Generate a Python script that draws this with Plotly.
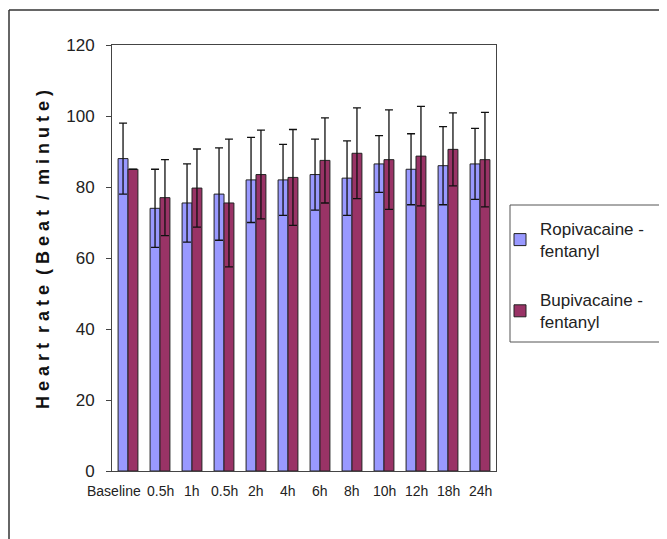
import plotly.graph_objects as go

categories = ["Baseline", "0.5h", "1h", "0.5h ", "2h", "4h", "6h", "8h", "10h", "12h", "18h", "24h"]
tick_labels = ["Baseline", "0.5h", "1h", "0.5h", "2h", "4h", "6h", "8h", "10h", "12h", "18h", "24h"]
ropi_mean = [88, 74, 75.5, 78, 82, 82, 83.5, 82.5, 86.5, 85, 86, 86.5]
ropi_sd = [10, 11, 11, 13, 12, 10, 10, 10.5, 8, 10, 11, 10]
bupi_mean = [85, 77, 79.7, 75.5, 83.5, 82.7, 87.5, 89.5, 87.7, 88.7, 90.6, 87.7]
bupi_sd = [None, 10.7, 11, 18, 12.5, 13.5, 12, 12.8, 14, 14, 10.3, 13.3]
y_ticks = [0, 20, 40, 60, 80, 100, 120]

FONT = "Liberation Sans, Arial, sans-serif"

fig = go.Figure()
fig.add_trace(go.Bar(
    x=categories, y=ropi_mean, name="Ropivacaine -<br>fentanyl", legendgroup="a",
    marker=dict(color="#9999FF", line=dict(color="#222222", width=1)),
    error_y=dict(type="data", array=ropi_sd, color="#111111", thickness=1.3, width=4),
))
fig.add_trace(go.Bar(
    x=categories, y=bupi_mean, name="Bupivacaine -<br>fentanyl", legendgroup="b",
    marker=dict(color="#993366", line=dict(color="#222222", width=1)),
    error_y=dict(type="data", array=bupi_sd, color="#111111", thickness=1.3, width=4),
))

# the page body adds an 8px offset; work in screen pixels and convert
OFF = 8
W, H = 667, 539
SL, SR, ST, SB = 112, 496, 45, 471          # plot area in screen pixels
L, T = SL - OFF, ST - OFF
pw, ph = SR - SL, SB - ST
R = W - L - pw
B = H - T - ph

def px_x(p):
    return (p - SL) / pw

def px_y(p):
    return (SB - p) / ph

# category labels under the axis (Baseline is pushed left as in the original)
label_annotations = []
for i, (cat, lab) in enumerate(zip(categories, tick_labels)):
    first = i == 0
    label_annotations.append(dict(
        text=lab, xref="x", yref="paper", x=cat, y=px_y(491),
        xanchor="right" if first else "center", yanchor="middle",
        xshift=15 if first else 0, showarrow=False,
        font=dict(size=14, family=FONT, color="#222222"),
    ))

fig.update_layout(
    width=W, height=H,
    margin=dict(l=L, r=R, t=T, b=B, autoexpand=False),
    paper_bgcolor="white", plot_bgcolor="white",
    barmode="group", bargap=0.38, bargroupgap=0,
    font=dict(family=FONT, color="#222222"),
    showlegend=True,
    legend=dict(
        x=px_x(500), y=px_y(211), xanchor="left", yanchor="top",
        borderwidth=0, bgcolor="rgba(0,0,0,0)",
        font=dict(size=17, family=FONT, color="#222222"),
        tracegroupgap=24, itemwidth=30,
    ),
    xaxis=dict(
        type="category", range=[-0.5, len(categories) - 0.5],
        showline=True, linecolor="#444444", linewidth=1, mirror=True,
        showticklabels=False, ticks="", showgrid=False, automargin=False,
    ),
    yaxis=dict(
        range=[0, 120], tickvals=y_ticks, showline=True, linecolor="#444444",
        linewidth=1, mirror=True, ticks="outside", ticklen=5, tickcolor="#444444",
        tickfont=dict(size=17, family=FONT, color="#222222"), showgrid=False,
        zeroline=False, ticklabelstandoff=8, automargin=False,
    ),
    annotations=[dict(
        text="<b>H e a r t  r a t e  ( B e a t  /  m i n u t e )</b>",
        xref="paper", yref="paper", x=px_x(43), y=px_y(250),
        xanchor="center", yanchor="middle", textangle=-90, showarrow=False,
        font=dict(size=18, family=FONT, color="#111111"),
    )] + label_annotations,
    shapes=[
        dict(type="line", xref="paper", yref="paper",
             x0=px_x(9), x1=px_x(700), y0=px_y(10), y1=px_y(10),
             line=dict(color="#333333", width=1.5)),
        dict(type="line", xref="paper", yref="paper",
             x0=px_x(9), x1=px_x(9), y0=px_y(10), y1=px_y(560),
             line=dict(color="#333333", width=1.5)),
        dict(type="rect", xref="paper", yref="paper",
             x0=px_x(510), x1=px_x(665), y0=px_y(205), y1=px_y(342),
             line=dict(color="#555555", width=1)),
    ],
)

fig.write_html("out.html")
